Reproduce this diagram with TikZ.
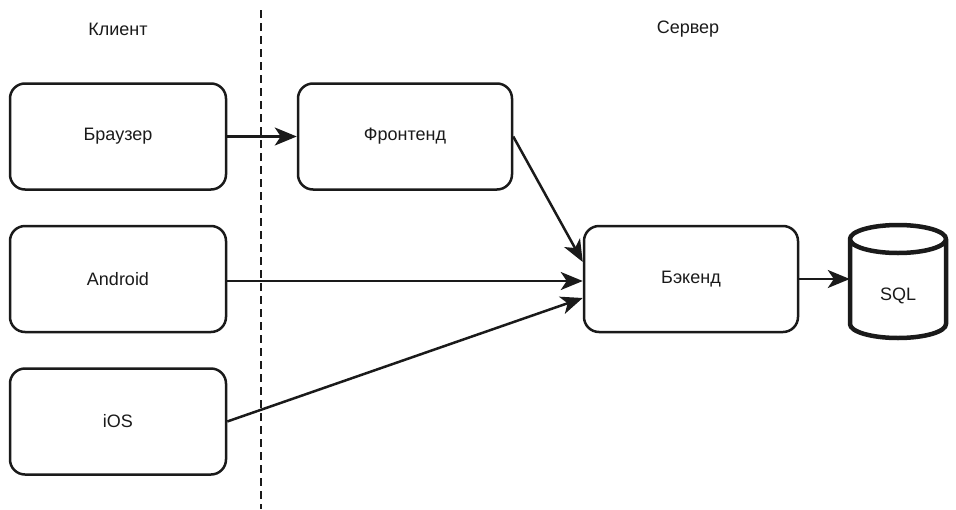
\documentclass[tikz,border=0pt]{standalone}
\usepackage{fontspec}
\setmainfont{Liberation Sans}
\usetikzlibrary{arrows.meta}
\definecolor{ink}{HTML}{1A1A1A}
\begin{document}
\begin{tikzpicture}[x=1pt,y=-1pt,
  box/.style={draw=ink,line width=2.5pt,rounded corners=15pt,minimum width=216pt,minimum height=106pt,inner sep=0pt,font=\fontsize{18}{21}\selectfont,text=ink},
  lbl/.style={font=\fontsize{18}{21}\selectfont,text=ink},
  conn/.style={draw=ink,line width=2.5pt,-{Stealth[length=22pt,width=18pt,inset=6pt]}},
  divider/.style={draw=ink,line width=2.5pt,dash pattern=on 8pt off 5pt}]
\useasboundingbox (0,0) rectangle (956,509);
\node[lbl] (client) at (118,29) {Клиент};
\node[lbl] (server) at (688,29) {Сервер};
\coordinate (dtop) at (261,10);
\coordinate (dbot) at (261,509);
\draw[divider] (dtop) -- (dbot);
\node[box] (br) at (118,136.5) {Браузер};
\node[box] (an) at (118,279) {Android};
\node[box] (ios) at (118,421.5) {iOS};
\node[box,minimum width=214pt] (fr) at (405,136.5) {Фронтенд};
\node[box,minimum width=214pt] (be) at (691,279) {Бэкенд};
% cylinder
\node[lbl,minimum width=96pt,minimum height=113pt,inner sep=0pt] (sql) at (898,296) {SQL};
\draw[ink,line width=4.5pt,line join=round] (850,239) arc[start angle=180,end angle=360,x radius=48,y radius=-14]
  arc[start angle=0,end angle=180,x radius=48,y radius=-14] -- (850,324)
  arc[start angle=180,end angle=360,x radius=48,y radius=-14] -- (946,239);
\draw[conn] (br) -- (fr);
\draw[conn] (fr.east) -- ([yshift=17pt]be.west);
\draw[conn] ([yshift=-2pt]an.east) -- ([yshift=-2pt]be.west);
\draw[conn] (ios.east) -- ([yshift=-19pt]be.west);
\draw[conn] (be.east) -- (be.east -| sql.west);
\end{tikzpicture}
\end{document}
